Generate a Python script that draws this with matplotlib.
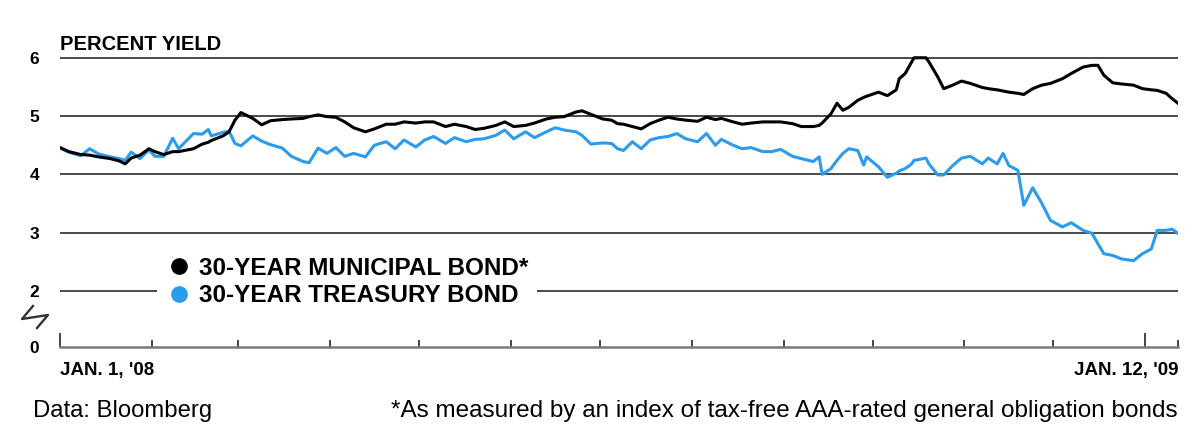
import pandas as pd
import matplotlib
matplotlib.use('Agg')
import matplotlib.pyplot as plt
import matplotlib.dates as mdates
from matplotlib.lines import Line2D

plt.rcParams['font.family'] = ['Liberation Sans', 'DejaVu Sans']

# days since Jan 1, 2008
days = [0, 3, 7, 10, 13, 17, 20, 22, 24, 27, 30, 32, 35, 38, 40, 45, 48, 50, 51, 55,
        57, 59, 61, 65, 68, 71, 75, 78, 82, 84, 87, 90, 93, 96, 99, 103, 106, 110, 113, 116,
        120, 123, 126, 130, 133, 137, 140, 143, 147, 150, 153, 157, 160, 164, 167, 170, 174, 176, 179, 183,
        186, 188, 190, 193, 196, 199, 202, 205, 208, 211, 215, 218, 221, 223, 227, 230, 233, 237, 240, 243,
        247, 250, 254, 256, 257, 260, 262, 264, 266, 269, 271, 272, 276, 279, 282, 283, 285, 287, 288, 292,
        293, 296, 298, 301, 304, 307, 311, 313, 316, 318, 320, 323, 325, 328, 331, 334, 338, 341, 345, 348,
        350, 352, 355, 358, 362, 365, 368, 370, 373, 375, 377]

muni_yield = [4.46, 4.39, 4.34, 4.33, 4.30, 4.27, 4.23, 4.18, 4.28, 4.33, 4.44, 4.39, 4.34, 4.39, 4.39, 4.44, 4.52, 4.55, 4.58, 4.66,
              4.73, 4.93, 5.06, 4.96, 4.85, 4.92, 4.94, 4.95, 4.96, 4.99, 5.02, 4.99, 4.98, 4.90, 4.80, 4.73, 4.78, 4.86, 4.86, 4.90,
              4.88, 4.90, 4.90, 4.82, 4.86, 4.82, 4.77, 4.79, 4.84, 4.90, 4.82, 4.84, 4.88, 4.95, 4.98, 4.99, 5.07, 5.09, 5.03, 4.95,
              4.93, 4.87, 4.86, 4.82, 4.78, 4.87, 4.93, 4.98, 4.95, 4.93, 4.91, 4.98, 4.94, 4.96, 4.90, 4.86, 4.88, 4.90, 4.90, 4.90,
              4.87, 4.82, 4.82, 4.84, 4.88, 5.04, 5.22, 5.10, 5.15, 5.27, 5.32, 5.34, 5.41, 5.35, 5.45, 5.64, 5.73, 5.91, 6.00, 6.00,
              5.93, 5.67, 5.47, 5.53, 5.60, 5.56, 5.49, 5.47, 5.45, 5.43, 5.41, 5.39, 5.37, 5.47, 5.53, 5.56, 5.64, 5.73, 5.84, 5.87,
              5.87, 5.70, 5.57, 5.55, 5.53, 5.47, 5.45, 5.44, 5.39, 5.30, 5.22]

treasury_yield = [4.45, 4.38, 4.32, 4.44, 4.35, 4.30, 4.27, 4.24, 4.38, 4.27, 4.42, 4.31, 4.31, 4.62, 4.44, 4.70, 4.69, 4.77, 4.66, 4.72,
                  4.74, 4.53, 4.49, 4.66, 4.57, 4.51, 4.45, 4.31, 4.22, 4.20, 4.45, 4.36, 4.46, 4.31, 4.36, 4.30, 4.50, 4.56, 4.44, 4.59,
                  4.47, 4.59, 4.65, 4.53, 4.63, 4.56, 4.60, 4.61, 4.67, 4.76, 4.61, 4.73, 4.63, 4.73, 4.80, 4.76, 4.73, 4.67, 4.52, 4.54,
                  4.53, 4.44, 4.41, 4.56, 4.44, 4.59, 4.63, 4.65, 4.70, 4.61, 4.56, 4.70, 4.50, 4.60, 4.50, 4.44, 4.46, 4.39, 4.39, 4.43,
                  4.31, 4.27, 4.22, 4.30, 4.00, 4.10, 4.24, 4.36, 4.44, 4.41, 4.16, 4.30, 4.13, 3.95, 4.02, 4.06, 4.10, 4.17, 4.24, 4.28,
                  4.18, 3.99, 3.99, 4.15, 4.28, 4.31, 4.18, 4.28, 4.18, 4.36, 4.15, 4.07, 3.47, 3.77, 3.51, 3.21, 3.10, 3.17, 3.04, 2.99,
                  2.81, 2.64, 2.61, 2.55, 2.52, 2.64, 2.72, 3.04, 3.04, 3.06, 2.99]

series_labels = ['30-YEAR MUNICIPAL BOND*', '30-YEAR TREASURY BOND']
series_colors = ['#000000', '#2B9BEA']
grid_values = [2, 3, 4, 5, 6]

start = pd.Timestamp('2008-01-01')
end = pd.Timestamp('2009-01-12')
dates = start + pd.to_timedelta(days, unit='D')

W, H = 1193, 429
fig = plt.figure(figsize=(W / 100, H / 100), dpi=100)

# axis floor sits just under the 2 line; the gap is bridged by a break mark
y_floor, y_top = 1.04, 6.15
ax = fig.add_axes([60 / W, 1 - 347 / H, (1178 - 60) / W, (347 - 49) / H])
ax.set_xlim(start, end)
ax.set_ylim(y_floor, y_top)

for v in grid_values:
    ax.axhline(v, color='#3c3c3c', lw=1.3, zorder=1)

ax.plot(dates, treasury_yield, color=series_colors[1], lw=2.2, zorder=3)
ax.plot(dates, muni_yield, color=series_colors[0], lw=2.2, zorder=4)

ax.set_yticks([y_floor] + grid_values)
ax.set_yticklabels(['0'] + [str(v) for v in grid_values], fontsize=12.5, fontweight='bold')
ax.tick_params(axis='y', length=0, pad=15)

for s in ['top', 'right', 'left']:
    ax.spines[s].set_visible(False)
ax.spines['bottom'].set_color('#7a7a7a')
ax.spines['bottom'].set_linewidth(1.8)

ax.xaxis.set_major_locator(mdates.YearLocator())
ax.xaxis.set_minor_locator(mdates.MonthLocator())
ax.xaxis.set_major_formatter(plt.NullFormatter())
ax.tick_params(axis='x', which='major', direction='in', length=10, width=1.4, color='#444444')
ax.tick_params(axis='x', which='minor', direction='in', length=5, width=1.4, color='#444444')
ax.set_xticks(list(ax.get_xticks(minor=True)) + [mdates.date2num(end)], minor=True)

ax.text(0, -0.05, "JAN. 1, '08", transform=ax.transAxes, ha='left', va='top',
        fontsize=13.5, fontweight='bold')
ax.text(1, -0.05, "JAN. 12, '09", transform=ax.transAxes, ha='right', va='top',
        fontsize=13.5, fontweight='bold')

fig.text(60 / W, 1 - 50 / H, 'PERCENT YIELD', ha='left', va='baseline',
         fontsize=14.5, fontweight='bold')

# axis break mark
bx = [33, 22, 48, 37]
by = [306, 319, 315, 328]
fig.add_artist(Line2D([x / W for x in bx], [1 - y / H for y in by],
                      transform=fig.transFigure, color='#333333', lw=1.7))

handles = [Line2D([], [], ls='none', marker='o', markersize=11,
                  markerfacecolor=c, markeredgecolor=c) for c in series_colors]
leg = ax.legend(handles, series_labels, loc='center left',
                bbox_to_anchor=(157 / W, 1 - 282 / H), bbox_transform=fig.transFigure,
                frameon=True, facecolor='white', edgecolor='none', framealpha=1,
                fancybox=False, handlelength=1.1, handletextpad=0.27,
                labelspacing=0.2, borderpad=0.35, borderaxespad=0,
                prop={'size': 17.5, 'weight': 'bold'})
leg.set_zorder(5)

fig.text(33 / W, 1 - 417 / H, 'Data: Bloomberg', ha='left', va='baseline', fontsize=17.2)
fig.text(1178 / W, 1 - 417 / H,
         '*As measured by an index of tax-free AAA-rated general obligation bonds',
         ha='right', va='baseline', fontsize=17.5)

fig.savefig('out.png', dpi=100)
